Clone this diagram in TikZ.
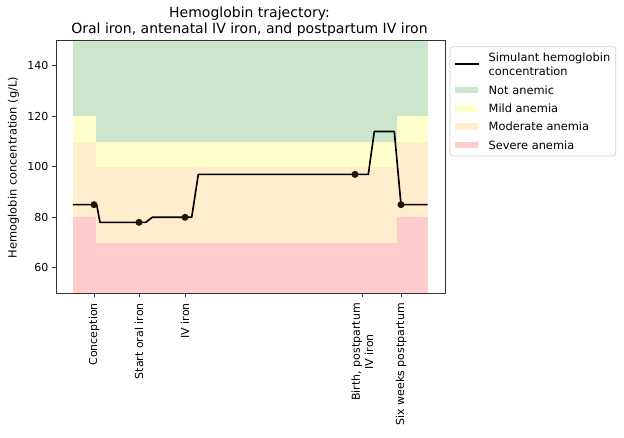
\documentclass[tikz,border=0pt]{standalone}
\usepackage{fontspec}
\setmainfont{DejaVu Sans}
\definecolor{bgreen}{HTML}{CCE6CC}
\definecolor{byellow}{HTML}{FFFFCC}
\definecolor{borange}{HTML}{FFEDCC}
\definecolor{bred}{HTML}{FFCCCC}
\definecolor{mark}{HTML}{1E1408}
\definecolor{axisc}{HTML}{333333}
\begin{document}
\begin{tikzpicture}[x=1pt,y=-1pt,font=\fontsize{11}{13.2}\selectfont,
  axisline/.style={draw=axisc,line width=0.9pt},
  tickmark/.style={draw=axisc,line width=0.9pt},
  dataline/.style={draw=black,line width=1.65pt,line join=round},
  dot/.style={circle,fill=mark,inner sep=0pt,minimum size=7pt},
  ticklbl/.style={inner sep=0pt},
  xlbl/.style={rotate=90,anchor=east,inner sep=0pt,align=center,font=\fontsize{11}{13.3}\selectfont},
  legtext/.style={anchor=west,inner sep=0pt,align=left,font=\fontsize{11.4}{14.4}\selectfont},
  legpatch/.style={draw=none}]
\useasboundingbox (0,0) rectangle (624,438);
\fill[white] (0,0) rectangle (624,438);
% data scope
\begin{scope}[x=1pt,y=2.525pt,yshift=-419.3pt]
  % bands: left column
  \fill[bgreen]  (73,120) rectangle (96,150);
  \fill[byellow] (73,110) rectangle (96,120);
  \fill[borange] (73,80) rectangle (96,110);
  \fill[bred]    (73,50) rectangle (96,80);
  % middle
  \fill[bgreen]  (96,110) rectangle (397,150);
  \fill[byellow] (96,100) rectangle (397,110);
  \fill[borange] (96,70) rectangle (397,100);
  \fill[bred]    (96,50) rectangle (397,70);
  % right
  \fill[bgreen]  (397,120) rectangle (427.7,150);
  \fill[byellow] (397,110) rectangle (427.7,120);
  \fill[borange] (397,80) rectangle (427.7,110);
  \fill[bred]    (397,50) rectangle (427.7,80);
  % trajectory
  \draw[dataline] (73,85) -- (96.7,85) -- (100,78) -- (145.7,78) -- (152.3,80)
     -- (191.7,80) -- (198.3,97) -- (368.3,97) -- (374.3,114) -- (394.3,114)
     -- (401,85) -- (427.7,85);
  \node[dot] (m1) at (94,85) {};
  \node[dot] (m2) at (139,78) {};
  \node[dot] (m3) at (185,80) {};
  \node[dot] (m4) at (355,97) {};
  \node[dot] (m5) at (401,85) {};
  % frame
  \draw[axisline] (56,50) rectangle (445,150);
  % y ticks
  \foreach \v in {60,80,100,120,140}{
    \draw[tickmark] (56,\v) -- (52,\v);
    \node[ticklbl,anchor=east] (yt\v) at (48.5,\v) {\v};
  }
\end{scope}
% x ticks
\foreach \x in {94,139,185,362.3,401}{
  \draw[tickmark] (\x,293.05) -- (\x,297);
}
\node[xlbl] (xa) at (94,303) {Conception};
\node[xlbl] (xb) at (139,303) {Start oral iron};
\node[xlbl] (xc) at (185,303) {IV iron};
\node[xlbl] (xd) at (362.3,303) {Birth, postpartum\\IV iron};
\node[xlbl] (xe) at (401,303) {Six weeks postpartum};
% axis label
\node[rotate=90,inner sep=0pt,font=\fontsize{11.4}{13.6}\selectfont] (ylab) at (13.5,167.5) {Hemoglobin concentration (g/L)};
% title
\node[align=center,inner sep=0pt,font=\fontsize{14}{15.3}\selectfont] (title) at (249.5,21.7)
  {Hemoglobin trajectory:\\Oral iron, antenatal IV iron, and postpartum IV iron};
% legend
\draw[rounded corners=2.5pt,draw=black!18,fill=white,line width=0.8pt] (450,46.7) rectangle (615.7,156);
\draw[dataline] (455,64.3) -- (479.3,64.3);
\node[legtext] (l1) at (488.5,64.5) {Simulant hemoglobin\\concentration};
\fill[bgreen]  (455,86.6) rectangle (477.7,93.4);
\node[legtext] (l2) at (488.5,90) {Not anemic};
\fill[byellow] (455,104.9) rectangle (477.7,111.7);
\node[legtext] (l3) at (488.5,108.3) {Mild anemia};
\fill[borange] (455,123.3) rectangle (477.7,130.1);
\node[legtext] (l4) at (488.5,126.7) {Moderate anemia};
\fill[bred]    (455,141.6) rectangle (477.7,148.4);
\node[legtext] (l5) at (488.5,145) {Severe anemia};
\end{tikzpicture}
\end{document}
